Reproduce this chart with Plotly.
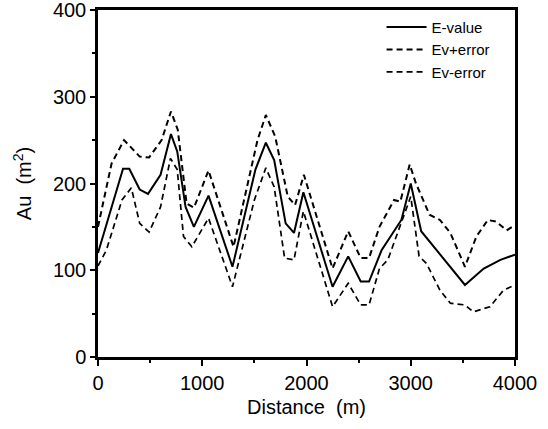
import plotly.graph_objects as go

# E-value
ev_x = [0, 150, 240, 300, 400, 480, 600, 700, 760, 840, 920, 1060, 1290, 1510, 1610, 1690, 1800, 1880, 1970,
        2250, 2400, 2520, 2600, 2720, 2910, 3000, 3100, 3520, 3700, 3860, 4000]
ev_y = [120, 181, 217, 217, 193, 188, 210, 257, 237, 173, 150, 186, 104, 216, 247, 227, 154, 143, 190,
        81, 116, 87, 87, 123, 158, 200, 145, 83, 102, 112, 118]

# Ev+error
up_x = [0, 130, 250, 400, 490, 610, 700, 765, 850, 920, 1060, 1300, 1530, 1610, 1700, 1820, 1890, 1975,
        2250, 2400, 2520, 2600, 2700, 2840, 2900, 2990, 3050, 3180, 3280, 3380, 3520, 3630, 3740, 3820, 3920, 4000]
up_y = [150, 223, 250, 231, 230, 250, 283, 262, 177, 172, 215, 127, 250, 279, 254, 185, 175, 210,
        102, 145, 114, 114, 150, 181, 179, 222, 200, 164, 158, 143, 104, 139, 158, 156, 146, 152]

# Ev-error
lo_x = [0, 80, 230, 320, 400, 490, 600, 695, 760, 820, 900, 1060, 1290, 1500, 1610, 1690, 1790, 1880, 1970,
        2250, 2400, 2520, 2600, 2700, 2780, 2910, 3000, 3080, 3150, 3280, 3380, 3520, 3600, 3760, 3890, 4000]
lo_y = [105, 123, 181, 195, 154, 144, 173, 229, 216, 139, 127, 160, 81, 181, 218, 196, 114, 112, 168,
        58, 85, 60, 60, 102, 112, 154, 185, 116, 108, 77, 62, 60, 52, 58, 77, 83]

names = ["E-value", "Ev+error", "Ev-error"]
x_ticks = [0, 1000, 2000, 3000, 4000]
y_ticks = [0, 100, 200, 300, 400]

FONT = "Liberation Sans, Arial, sans-serif"

fig = go.Figure()
fig.add_trace(go.Scatter(x=ev_x, y=ev_y, mode="lines", name=names[0],
                         line=dict(color="black", width=2, dash="solid")))
fig.add_trace(go.Scatter(x=up_x, y=up_y, mode="lines", name=names[1],
                         line=dict(color="black", width=2, dash="6px,4px")))
fig.add_trace(go.Scatter(x=lo_x, y=lo_y, mode="lines", name=names[2],
                         line=dict(color="black", width=1.7, dash="6px,4px")))

fig.update_layout(
    width=548, height=429,
    margin=dict(l=98, r=33, t=10, b=72, autoexpand=False),
    paper_bgcolor="white", plot_bgcolor="white",
    font=dict(family=FONT, color="black", size=20),
    showlegend=True,
    legend=dict(x=0.68, y=0.998, xanchor="left", yanchor="top",
                bgcolor="rgba(0,0,0,0)", font=dict(size=15, family=FONT),
                tracegroupgap=0, itemwidth=40),
    xaxis=dict(range=[0, 4000], tickvals=x_ticks, automargin=False, ticklabeloverflow="allow",
               ticks="outside", ticklen=6, tickwidth=1.5, tickcolor="black",
               minor=dict(tickvals=[500, 1500, 2500, 3500], ticks="outside", ticklen=3, tickcolor="black"),
               showline=True, linecolor="black", linewidth=2.5, mirror=True,
               showgrid=False, zeroline=False,
               title=dict(text="Distance  (m)", font=dict(size=20), standoff=8),
               tickfont=dict(size=20)),
    yaxis=dict(range=[0, 400], tickvals=y_ticks, automargin=False, ticklabeloverflow="allow",
               ticks="outside", ticklen=5, tickwidth=1.5, tickcolor="black",
               minor=dict(tickvals=[50, 150, 250, 350], ticks="outside", ticklen=3, tickcolor="black"),
               showline=True, linecolor="black", linewidth=2.5, mirror=True,
               showgrid=False, zeroline=False,
               title=dict(text="Au  (m<sup>2</sup>)", font=dict(size=20), standoff=16),
               tickfont=dict(size=20)),
)

fig.write_html("out.html")
